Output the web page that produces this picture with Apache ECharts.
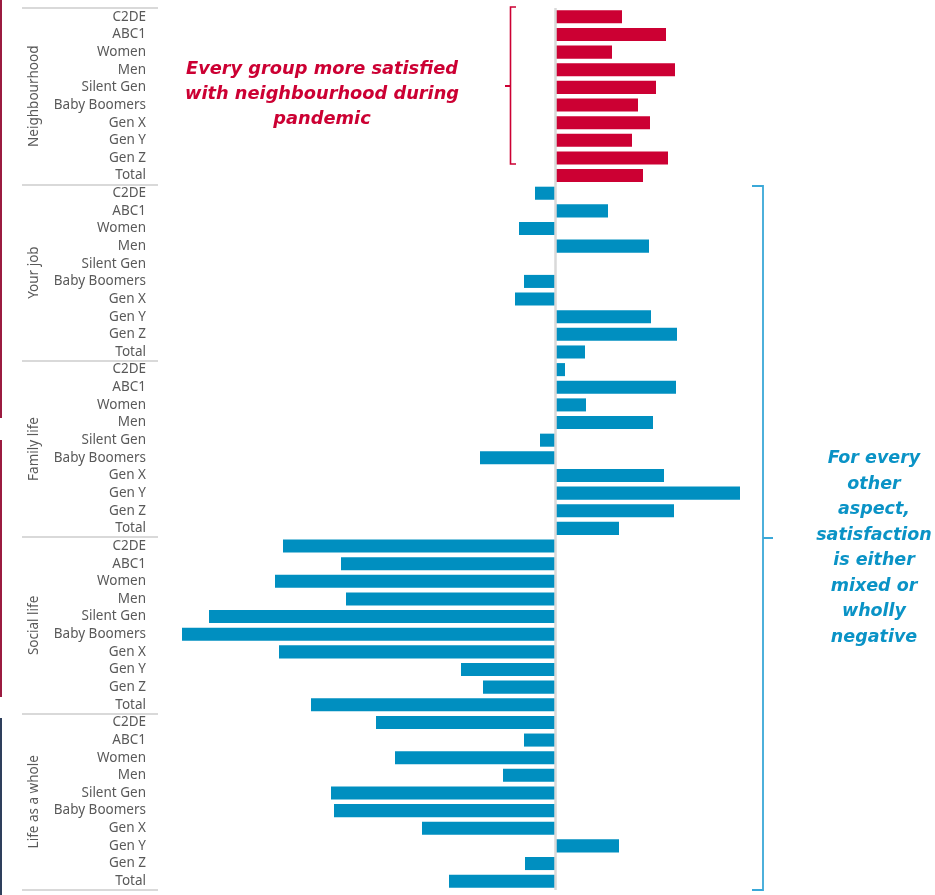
<!DOCTYPE html>
<html>
<head>
<meta charset="utf-8">
<title>Satisfaction change by aspect and group</title>
<script src="https://cdn.jsdelivr.net/npm/echarts@6/dist/echarts.min.js"></script>
<style>
  html, body { margin: 0; padding: 0; background: #ffffff; }
  #chart { width: 935px; height: 895px; }
</style>
</head>
<body>
<div id="chart"></div>
<script>
// Aspects of life (outer level) and respondent groups (inner level)
const groups = ['Neighbourhood', 'Your job', 'Family life', 'Social life', 'Life as a whole'];
const segments = ['C2DE', 'ABC1', 'Women', 'Men', 'Silent Gen', 'Baby Boomers', 'Gen X', 'Gen Y', 'Gen Z', 'Total'];

// Net change in satisfaction for each group
const neighbourhood = [6.7, 11.1, 5.7, 12.0, 10.1, 8.3, 9.5, 7.7, 11.3, 8.8];
const yourJob       = [-2.0, 5.3, -3.6, 9.4, null, -3.1, -4.0, 9.6, 12.2, 3.0];
const familyLife    = [1.0, 12.1, 3.1, 9.8, -1.5, -7.5, 10.9, 18.5, 11.9, 6.4];
const socialLife    = [-27.2, -21.4, -28.0, -20.9, -34.6, -37.3, -27.6, -9.4, -7.2, -24.4];
const lifeAsWhole   = [-17.9, -3.1, -16.0, -5.2, -22.4, -22.1, -13.3, 6.4, -3.0, -10.6];

const redNote = 'Every group more satisfied\nwith neighbourhood during\npandemic';
const blueNote = 'For every\nother\naspect,\nsatisfaction\nis either\nmixed or\nwholly\nnegative';

const RED = '#cc0033';
const BLUE = '#008fc0';
const LABEL_GREY = '#595959';
const RULE_GREY = '#d9d9d9';

const seriesBlocks = [neighbourhood, yourJob, familyLife, socialLife, lifeAsWhole];
const categories = [];
const values = [];
seriesBlocks.forEach(function (block) {
  segments.forEach(function (seg, i) {
    categories.push(seg);
    values.push(block[i]);
  });
});

const chart = echarts.init(document.getElementById('chart'), null, { renderer: 'canvas' });

const option = {
  animation: false,
  backgroundColor: '#ffffff',
  textStyle: { fontFamily: 'Noto Sans' },
  grid: [
    { left: 155, top: 8, width: 700, height: 882 },
    { left: 22, top: 8, width: 136, height: 882 }
  ],
  xAxis: [
    { gridIndex: 0, type: 'value', min: -40, max: 30, show: false },
    { gridIndex: 1, type: 'value', min: 0, max: 1, show: false }
  ],
  yAxis: [
    {
      gridIndex: 0,
      type: 'category',
      inverse: true,
      data: categories,
      axisLine: { show: false, onZero: false },
      axisTick: { show: false },
      splitLine: { show: false },
      axisLabel: {
        interval: 0,
        margin: 9,
        color: LABEL_GREY,
        fontSize: 13.5,
        fontFamily: 'Noto Sans'
      }
    },
    {
      gridIndex: 1,
      type: 'category',
      inverse: true,
      data: groups,
      axisLine: { show: false },
      axisTick: { show: false },
      splitLine: { show: true, interval: 0, lineStyle: { color: RULE_GREY, width: 2 } },
      axisLabel: {
        inside: true,
        interval: 0,
        rotate: 90,
        margin: 5,
        color: LABEL_GREY,
        fontSize: 13.5,
        fontFamily: 'Noto Sans'
      }
    }
  ],
  series: [
    {
      type: 'bar',
      xAxisIndex: 0,
      yAxisIndex: 0,
      data: values,
      barCategoryGap: '26%',
      itemStyle: {
        color: function (p) { return p.dataIndex < segments.length ? RED : BLUE; }
      },
      markLine: {
        silent: true,
        symbol: ['none', 'none'],
        label: { show: false },
        lineStyle: { color: RULE_GREY, width: 2.5, type: 'solid' },
        data: [{ xAxis: 0 }]
      }
    }
  ],
  graphic: [
    // slide edge accents
    { type: 'rect', shape: { x: 0, y: 0, width: 2, height: 418 }, style: { fill: '#9b1b40' } },
    { type: 'rect', shape: { x: 0, y: 440, width: 2, height: 257 }, style: { fill: '#9b1b40' } },
    { type: 'rect', shape: { x: 0, y: 718, width: 2, height: 177 }, style: { fill: '#2e3f5c' } },
    // bracket around the neighbourhood bars
    {
      type: 'polyline',
      shape: { points: [[516, 7], [510.5, 7], [510.5, 164], [516, 164]] },
      style: { stroke: RED, lineWidth: 1.6, fill: null }
    },
    { type: 'line', shape: { x1: 505, y1: 86, x2: 510.5, y2: 86 }, style: { stroke: RED, lineWidth: 2 } },
    {
      type: 'text',
      x: 322, y: 94,
      style: {
        text: redNote,
        fill: RED,
        font: 'italic bold 17.8px "DejaVu Sans"',
        align: 'center',
        verticalAlign: 'middle',
        lineHeight: 25
      }
    },
    // bracket around the remaining aspects
    {
      type: 'polyline',
      shape: { points: [[752, 186], [763, 186], [763, 890], [752, 890]] },
      style: { stroke: '#3aa8d8', lineWidth: 1.8, fill: null }
    },
    { type: 'line', shape: { x1: 763, y1: 538, x2: 773, y2: 538 }, style: { stroke: '#3aa8d8', lineWidth: 2 } },
    {
      type: 'text',
      x: 874, y: 548,
      style: {
        text: blueNote,
        fill: '#0a93c6',
        font: 'italic bold 17.5px "DejaVu Sans"',
        align: 'center',
        verticalAlign: 'middle',
        lineHeight: 25.5
      }
    }
  ]
};

chart.setOption(option);
</script>
</body>
</html>
